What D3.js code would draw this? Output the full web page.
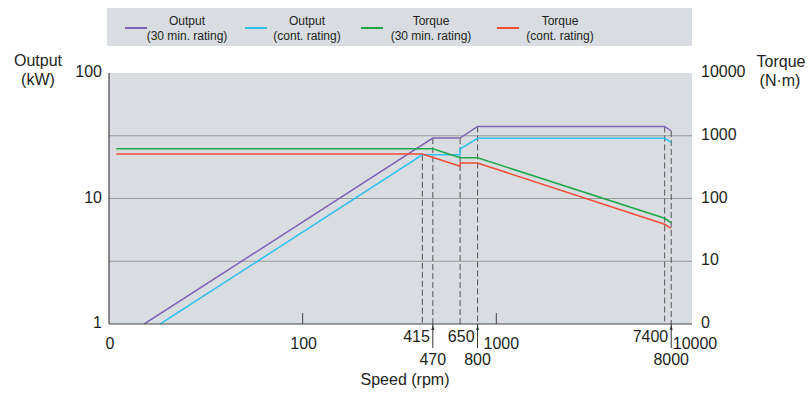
<!DOCTYPE html>
<html lang="en">
<head>
<meta charset="UTF-8">
<title>Output / Torque vs Speed</title>
<script src="https://d3js.org/d3.v7.min.js"></script>
<style>
  body { margin: 0; background: #fff; }
  text { font-family: "Liberation Sans", Arial, sans-serif; fill: #231f20; }
</style>
</head>
<body>
<svg id="chart" width="812" height="393"></svg>
<script>
// --- data ---
const speedOut30 = [15.2, 470, 650, 800, 7400, 8000];
const out30      = [1, 30.3, 30.3, 37.5, 37.5, 34.5];

const speedOutCont = [18.4, 415, 650, 650, 800, 7400, 8000];
const outCont      = [1, 22.3, 22.3, 24.8, 30.2, 30.2, 28];

const speedTq30 = [10.9, 470, 650, 800, 7400, 8000];
const tq30      = [620, 620, 445, 445, 48.4, 41];

const speedTqCont = [10.9, 415, 650, 650, 800, 7400, 8000];
const tqCont      = [512, 512, 327, 368, 368, 38.8, 33.5];

const kneeSpeeds   = [415, 470, 650, 800, 7400, 8000];
const speedTicks   = [10, 100, 1000, 10000];
const speedLabels  = ["0", "100", "1000", "10000"];
const outputTicks  = [1, 10, 100];
const torqueTicks  = [1, 10, 100, 1000, 10000];
const torqueLabels = ["0", "10", "100", "1000", "10000"];

const legendTop    = ["Output", "Output", "Torque", "Torque"];
const legendBottom = ["(30 min. rating)", "(cont. rating)", "(30 min. rating)", "(cont. rating)"];
const colors = ["#7f62b8", "#2fc0ee", "#1fa84a", "#f04e37"];

// --- layout ---
const svg = d3.select("#chart");
const plot = {left: 109, right: 692, top: 73, bottom: 324};

const x = d3.scaleLog().domain([10, 10000]).range([plot.left, 690]);
const yOut = d3.scaleLog().domain([1, 100]).range([plot.bottom, plot.top]);
const yTq = d3.scaleLog().domain([1, 10000]).range([plot.bottom, plot.top]);

// legend box
svg.append("rect")
  .attr("x", 107).attr("y", 8).attr("width", 585).attr("height", 38)
  .attr("fill", "#d9dde1");

const legendX = [125, 245, 361, 497];
legendTop.forEach((t, i) => {
  const g = svg.append("g").attr("transform", `translate(${legendX[i]},0)`);
  g.append("line").attr("x1", 0).attr("x2", 22).attr("y1", 28).attr("y2", 28)
    .attr("stroke", colors[i]).attr("stroke-width", 2);
  const cx = i === 3 ? 63 : (i === 2 ? 70 : 62);
  g.append("text").attr("x", cx).attr("y", 25).attr("text-anchor", "middle")
    .attr("font-size", 12).text(t);
  g.append("text").attr("x", cx).attr("y", 40).attr("text-anchor", "middle")
    .attr("font-size", 12).text(legendBottom[i]);
});

// plot background
svg.append("rect")
  .attr("x", plot.left).attr("y", plot.top)
  .attr("width", plot.right - plot.left).attr("height", plot.bottom - plot.top)
  .attr("fill", "#d9dde1");

// gridlines (torque decades, which fall on output half-decades and decades)
svg.append("g").selectAll("line")
  .data(torqueTicks.slice(1, -1))
  .join("line")
    .attr("x1", plot.left).attr("x2", plot.right)
    .attr("y1", d => yTq(d)).attr("y2", d => yTq(d))
    .attr("stroke", "#999").attr("stroke-width", 1);

// inner speed ticks
svg.append("g").selectAll("line")
  .data([100, 1000])
  .join("line")
    .attr("x1", d => x(d)).attr("x2", d => x(d))
    .attr("y1", plot.bottom - 11).attr("y2", plot.bottom)
    .attr("stroke", "#444").attr("stroke-width", 1);

// dashed knee lines
const kneeTop = s => s === 415 ? outCont[1] : out30[speedOut30.indexOf(s)];
svg.append("g").selectAll("line")
  .data(kneeSpeeds)
  .join("line")
    .attr("x1", d => x(d)).attr("x2", d => x(d))
    .attr("y1", d => yOut(kneeTop(d))).attr("y2", plot.bottom)
    .attr("stroke", "#555").attr("stroke-width", 1)
    .attr("stroke-dasharray", "6,3");

// curves
const clip = svg.append("clipPath").attr("id", "clip")
  .append("rect").attr("x", plot.left).attr("y", plot.top)
  .attr("width", plot.right - plot.left).attr("height", plot.bottom - plot.top);

const series = [
  {s: speedOut30, v: out30, y: yOut},
  {s: speedOutCont, v: outCont, y: yOut},
  {s: speedTq30, v: tq30, y: yTq},
  {s: speedTqCont, v: tqCont, y: yTq}
];
series.forEach((d, i) => {
  const line = d3.line().x(j => x(d.s[j])).y(j => d.y(d.v[j]));
  svg.append("path")
    .attr("d", line(d3.range(d.s.length)))
    .attr("fill", "none")
    .attr("stroke", colors[i]).attr("stroke-width", 1.5)
    .attr("clip-path", "url(#clip)");
});

// axis lines
svg.append("line").attr("x1", plot.left).attr("x2", plot.left)
  .attr("y1", plot.top).attr("y2", plot.bottom).attr("stroke", "#444").attr("stroke-width", 1.2);
svg.append("line").attr("x1", plot.left).attr("x2", plot.right)
  .attr("y1", plot.bottom).attr("y2", plot.bottom).attr("stroke", "#444").attr("stroke-width", 1.2);

// left axis labels
svg.append("g").selectAll("text")
  .data(outputTicks)
  .join("text")
    .attr("x", 102).attr("y", d => yOut(d) + 4)
    .attr("text-anchor", "end").attr("font-size", 16)
    .text(d => d);

// right axis labels
svg.append("g").selectAll("text")
  .data(torqueTicks)
  .join("text")
    .attr("x", 701).attr("y", (d, i) => yTq(d) + 4)
    .attr("font-size", 16)
    .text((d, i) => torqueLabels[i]);

// speed tick labels
svg.append("g").selectAll("text")
  .data(speedTicks)
  .join("text")
    .attr("x", d => x(d) + (d >= 1000 ? 5 : 1)).attr("y", 349)
    .attr("text-anchor", "middle").attr("font-size", 16)
    .text((d, i) => speedLabels[i]);

// knee speed labels below axis: pairs (upper right-aligned, lower centred with a marker)
for (let i = 0; i < kneeSpeeds.length; i += 2) {
  const lo = kneeSpeeds[i], hi = kneeSpeeds[i + 1];
  svg.append("line").attr("x1", x(hi)).attr("x2", x(hi))
    .attr("y1", plot.bottom).attr("y2", plot.bottom + 24)
    .attr("stroke", "#333").attr("stroke-width", 1);
  svg.append("path")
    .attr("d", `M${x(hi) - 1.5},${plot.bottom + 6}L${x(hi)},${plot.bottom + 1}L${x(hi) + 1.5},${plot.bottom + 6}Z`)
    .attr("fill", "#333");
  svg.append("text").attr("x", x(hi) - 3).attr("y", 342)
    .attr("text-anchor", "end").attr("font-size", 16).text(lo);
  svg.append("text").attr("x", x(hi)).attr("y", 365)
    .attr("text-anchor", "middle").attr("font-size", 16).text(hi);
}

// axis titles
svg.append("text").attr("x", 405).attr("y", 385).attr("text-anchor", "middle")
  .attr("font-size", 16).text("Speed (rpm)");
svg.append("text").attr("x", 38).attr("y", 66).attr("text-anchor", "middle")
  .attr("font-size", 16).text("Output");
svg.append("text").attr("x", 38).attr("y", 85).attr("text-anchor", "middle")
  .attr("font-size", 16).text("(kW)");
svg.append("text").attr("x", 781).attr("y", 67).attr("text-anchor", "middle")
  .attr("font-size", 16).text("Torque");
svg.append("text").attr("x", 780).attr("y", 86).attr("text-anchor", "middle")
  .attr("font-size", 16).text("(N·m)");
</script>
</body>
</html>
